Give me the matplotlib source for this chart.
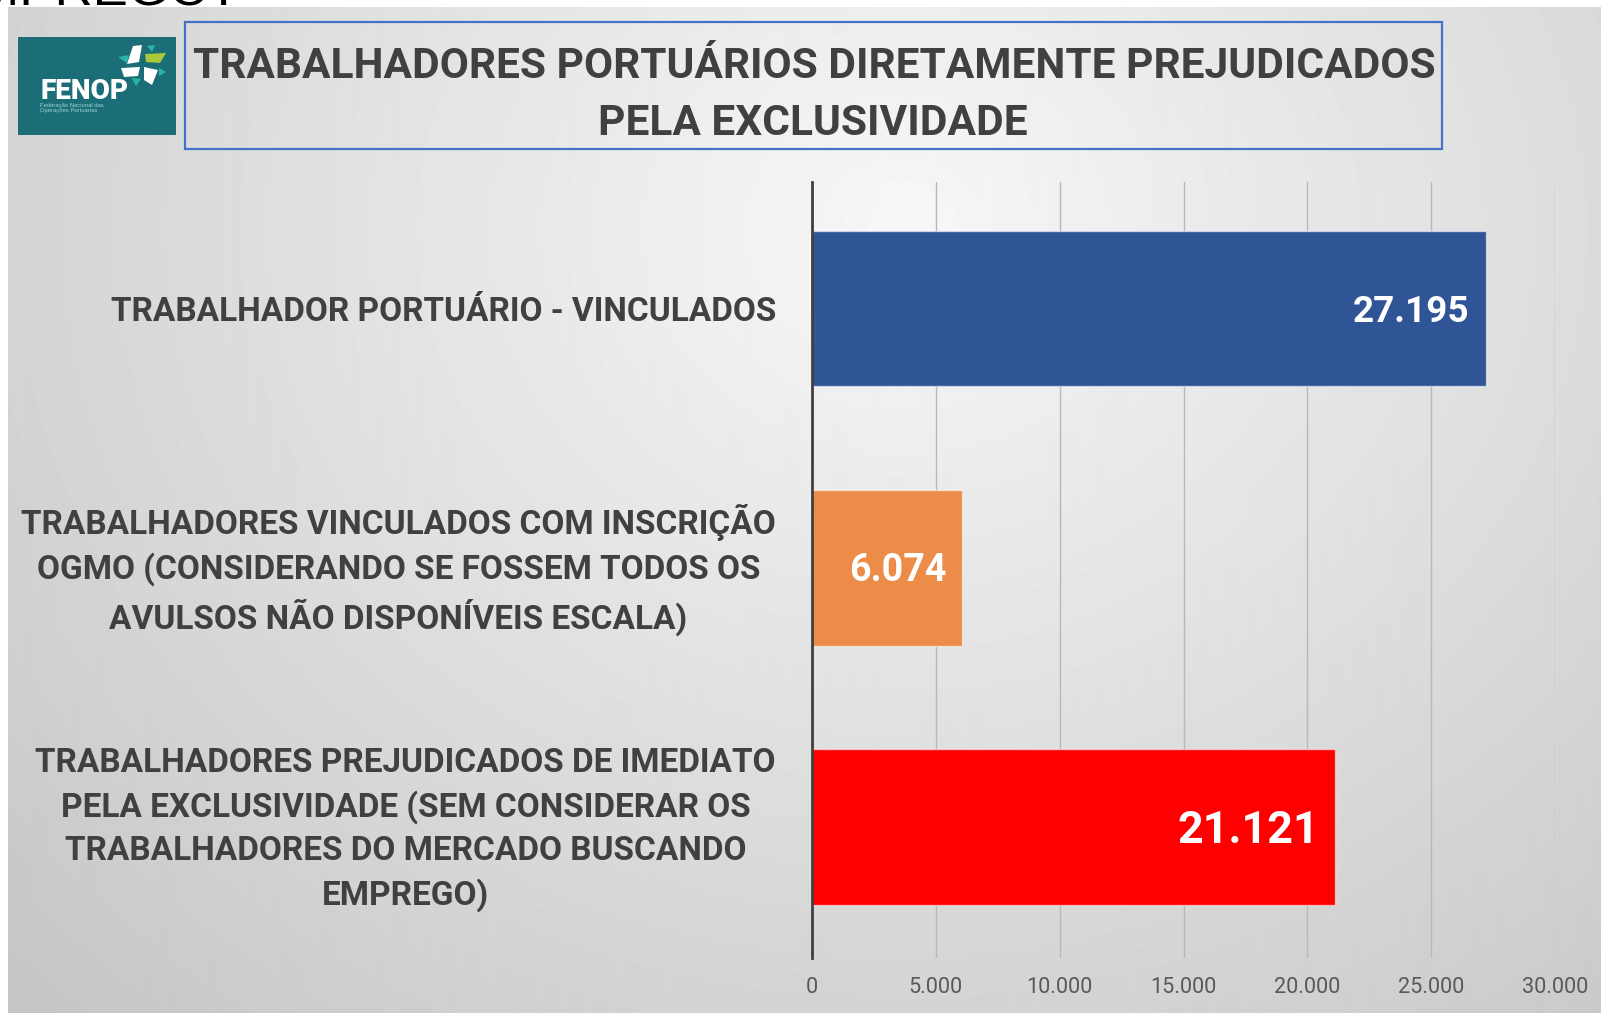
import numpy as np
import matplotlib
matplotlib.use("Agg")
import matplotlib.pyplot as plt
from matplotlib import font_manager
from matplotlib.patches import Rectangle, Polygon
from matplotlib.transforms import ScaledTranslation

W, H, DPI = 1601, 1013, 100

# ---------------- data ----------------
categories = [
    "TRABALHADOR PORTUÁRIO - VINCULADOS",
    "TRABALHADORES VINCULADOS COM INSCRIÇÃO\nOGMO (CONSIDERANDO SE FOSSEM TODOS OS\nAVULSOS NÃO DISPONÍVEIS ESCALA)",
    "TRABALHADORES PREJUDICADOS DE IMEDIATO\nPELA EXCLUSIVIDADE (SEM CONSIDERAR OS\nTRABALHADORES DO MERCADO BUSCANDO\nEMPREGO)",
]
values = [27195, 6074, 21121]
value_labels = ["27.195", "6.074", "21.121"]
bar_colors = ["#2F5597", "#ED8B48", "#FF0000"]
x_ticks = [0, 5000, 10000, 15000, 20000, 25000, 30000]
x_tick_labels = ["0", "5.000", "10.000", "15.000", "20.000", "25.000", "30.000"]
title_lines = ["TRABALHADORES PORTUÁRIOS DIRETAMENTE PREJUDICADOS", "PELA EXCLUSIVIDADE"]
top_cut_text = "EMPREGO?"
logo_name = "FENOP"
logo_sub = "Federação Nacional das\nOperações Portuárias"

# ---------------- fonts ----------------
names = {f.name for f in font_manager.fontManager.ttflist}
def pick(*cands):
    for c in cands:
        if c in names:
            return c
    return "DejaVu Sans"
NARROW = pick("Liberation Sans Narrow", "Roboto", "Open Sans")
SANS = pick("Liberation Sans", "DejaVu Sans")

fig = plt.figure(figsize=(W / DPI, H / DPI), dpi=DPI)
fig.patch.set_facecolor("white")
renderer = fig.canvas.get_renderer()

def fx(px):
    return px / W

def fy(py):
    return 1 - py / H

def fit_size(s, width_px, **kw):
    t = fig.text(0, 0, s, fontsize=10, **kw)
    w = t.get_window_extent(renderer).width
    t.remove()
    return 10 * width_px / w

# ---------------- background slide gradient ----------------
bg = fig.add_axes([fx(8), 0, 1 - fx(8), fy(7)], zorder=-10)
yy, xx = np.mgrid[7:H, 8:W].astype(float)
r = np.sqrt(((xx - 900) / 900) ** 2 + ((yy - 230) / 780) ** 2)
v = np.clip(0.97 - 0.14 * r, 0, 1)
bg.imshow(v, cmap="gray", vmin=0, vmax=1, aspect="auto",
          extent=[8, W, H, 7], interpolation="bilinear")
bg.set_axis_off()

# cut-off text at the very top (also cut in the original screenshot)
fig.text(fx(240), fy(5), top_cut_text, ha="right", va="baseline",
         fontsize=38, family=SANS, color="black")

# ---------------- logo ----------------
fig.add_artist(Rectangle((fx(18), fy(135)), fx(176) - fx(18), fy(37) - fy(135),
                         transform=fig.transFigure, facecolor="#1B6E78",
                         edgecolor="none", zorder=2))

def poly(pts, color):
    fig.add_artist(Polygon([(fx(x), fy(y)) for x, y in pts], closed=True,
                           transform=fig.transFigure, facecolor=color,
                           edgecolor="none", zorder=3))

poly([(133, 46), (142, 45), (139, 62), (127, 64)], "white")
poly([(147, 46), (155, 45), (152, 52)], "#2BB3A8")
poly([(145, 54), (166, 53), (160, 63), (146, 62)], "#A8C83A")
poly([(118, 57), (129, 55), (127, 63)], "#2BB3A8")
poly([(121, 68), (140, 67), (138, 76), (124, 77)], "white")
poly([(144, 67), (158, 70), (152, 85), (144, 80)], "white")
poly([(159, 68), (166, 72), (159, 76)], "#2BB3A8")
poly([(132, 78), (141, 79), (136, 86)], "#2BB3A8")

fs_logo = fit_size(logo_name, 84, family=NARROW, weight="bold")
fig.text(fx(40), fy(99), logo_name, ha="left", va="baseline", fontsize=fs_logo * 1.05,
         family=NARROW, weight="heavy", color="white", zorder=4)
fig.text(fx(40), fy(103), logo_sub, ha="left", va="top", fontsize=4.2,
         family=SANS, color="#9fd3d3", linespacing=1.1, zorder=4)

# ---------------- title box ----------------
fig.add_artist(Rectangle((fx(185), fy(149)), fx(1442) - fx(185), fy(22) - fy(149),
                         transform=fig.transFigure, fill=False,
                         edgecolor="#4472C4", linewidth=1.6, zorder=3))
fs_title = fit_size(title_lines[0], 1240, family=NARROW, weight="bold")
fig.text(fx(814), fy(78), title_lines[0], ha="center", va="baseline",
         fontsize=fs_title, family=NARROW, weight="bold", color="#404040")
fig.text(fx(813), fy(135), title_lines[1], ha="center", va="baseline",
         fontsize=fs_title, family=NARROW, weight="bold", color="#404040")

# ---------------- chart ----------------
ax = fig.add_axes([fx(812), fy(958), fx(1555) - fx(812), fy(182) - fy(958)])
ax.set_facecolor("none")
y = np.arange(len(categories))
ax.barh(y, values, height=0.6, color=bar_colors,
        edgecolor=(1, 1, 1, 0.55), linewidth=1.0, zorder=3)
ax.set_xlim(0, 30000)
ax.set_ylim(2.505, -0.488)

ax.set_axisbelow(True)
ax.xaxis.grid(True, color="#b8b8b8", linewidth=1.0)
ax.yaxis.grid(False)
for s in ["top", "right", "bottom"]:
    ax.spines[s].set_visible(False)
ax.spines["left"].set_color("#404040")
ax.spines["left"].set_linewidth(2.0)
ax.spines["left"].set_zorder(4)

fs_tick = fit_size("5.000", 54, family=NARROW)
ax.set_xticks(x_ticks)
ax.set_xticklabels(x_tick_labels, fontsize=fs_tick, family=NARROW, color="#595959")
ax.tick_params(axis="x", length=0, pad=14)

fs_cat = fit_size(categories[0], 664, family=NARROW, weight="bold")
ax.set_yticks(y)
ax.set_yticklabels(categories, fontsize=fs_cat, family=NARROW, weight="bold",
                   color="#404040", multialignment="center", linespacing=1.42)
ax.tick_params(axis="y", length=0, pad=26)
# small vertical nudges (pixels, upward) so the multi-line blocks sit centred on the bars
nudges_px = [0, 8, 7]
for lab, dpx in zip(ax.get_yticklabels(), nudges_px):
    lab.set_transform(lab.get_transform() + ScaledTranslation(0, dpx / DPI, fig.dpi_scale_trans))

val_widths = [117, 97, 117]
val_scale = [1.0, 1.0, 1.22]
for i, (val, lbl, wpx, sc) in enumerate(zip(values, value_labels, val_widths, val_scale)):
    fs = fit_size(lbl, wpx, family=NARROW, weight="bold") * sc
    ax.annotate(lbl, xy=(val, i), xytext=(-11.5, -0.355 * fs),
                textcoords="offset points", ha="right", va="baseline",
                fontsize=fs, family=NARROW, weight="bold", color="white", zorder=5)

fig.savefig("out.png", dpi=DPI, facecolor=fig.get_facecolor())
